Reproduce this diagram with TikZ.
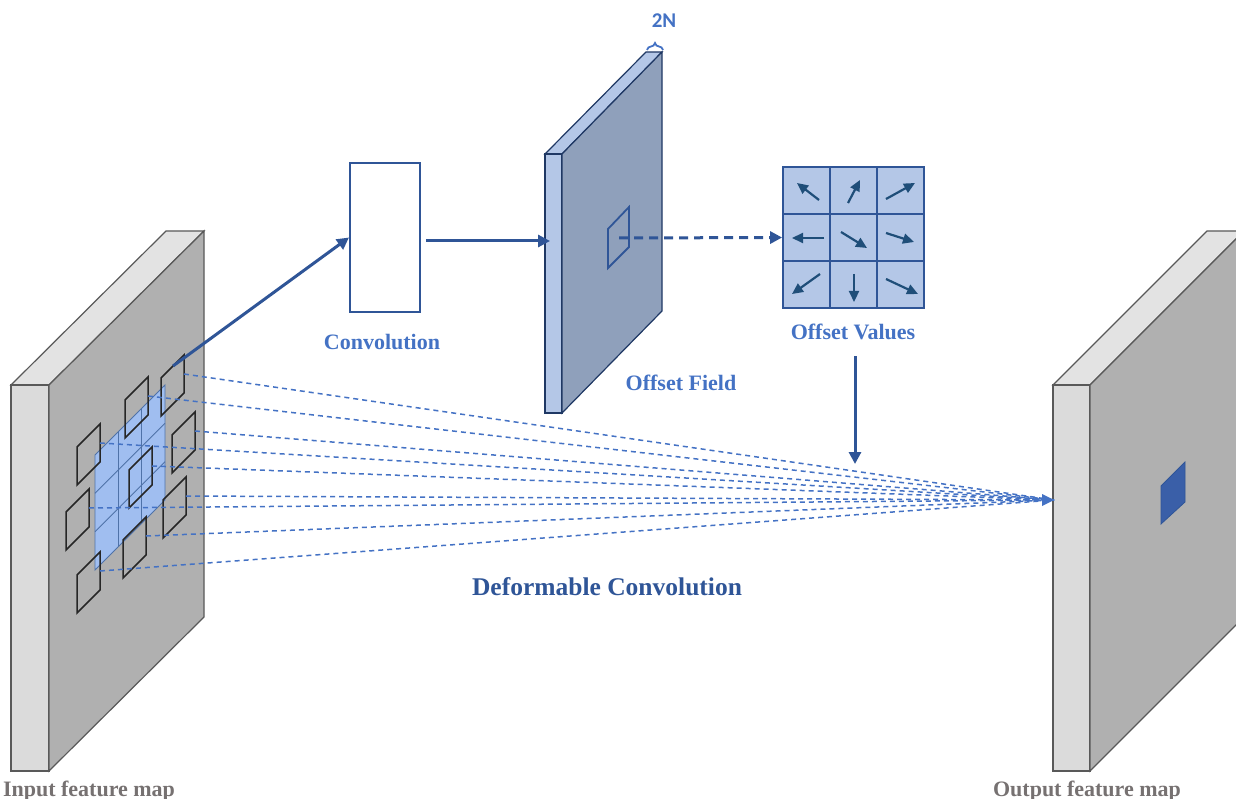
\documentclass[tikz,border=0pt]{standalone}
\usepackage{fontspec}
\setmainfont{Liberation Serif}
\newfontfamily\sansb{Carlito}
\usetikzlibrary{arrows.meta,calc,decorations.pathreplacing}
\definecolor{gface}{HTML}{B0B0B0}
\definecolor{gside}{HTML}{DBDBDB}
\definecolor{gtop}{HTML}{E3E3E3}
\definecolor{gedge}{HTML}{595959}
\definecolor{fface}{HTML}{8FA0BB}
\definecolor{fside}{HTML}{B4C7E7}
\definecolor{fedge}{HTML}{1F3864}
\definecolor{lblue}{HTML}{4472C4}
\definecolor{dblue}{HTML}{2F5597}
\definecolor{navy}{HTML}{1F4E79}
\definecolor{gridblue}{HTML}{A0BEF0}
\definecolor{gridline}{HTML}{4F72A8}
\definecolor{lblgray}{HTML}{767171}
\definecolor{patchblue}{HTML}{3A5FA8}
\definecolor{winblack}{HTML}{262626}
\tikzset{
  gedgestyle/.style={draw=gedge, line width=1.2pt, line join=miter},
  fedgestyle/.style={draw=fedge, line width=1.2pt, line join=miter},
  win/.style={draw=winblack, line width=1.5pt},
  mainarrow/.style={draw=dblue, line width=3pt, -{Triangle[length=12pt 0,width=12pt 0]}},
  cellarrow/.style={draw=navy, line width=2.2pt, -{Triangle[length=11pt 0,width=10pt 0]}},
  dline/.style={draw=lblue, line width=1.5pt, dash pattern=on 5pt off 4pt},
  lbl/.style={font=\fontsize{22}{26}\selectfont\bfseries, anchor=base, inner sep=0pt},
  cell/.style={draw=dblue, line width=1.8pt, fill=fside, minimum size=47pt, inner sep=0pt},
}
\begin{document}
\begin{tikzpicture}[x=1pt,y=-1pt]
\useasboundingbox (0,0) rectangle (1236,799);
% ---------- input feature map ----------
\coordinate (i1) at (11,385);
\coordinate (i2) at (49,385);
\coordinate (i3) at (204,231);
\coordinate (i4) at (166,231);
\coordinate (i5) at (204,617);
\coordinate (i6) at (49,771);
\coordinate (i7) at (11,771);
\filldraw[fill=gtop, gedgestyle] (i1) -- (i2) -- (i3) -- (i4) -- cycle;
\filldraw[fill=gside, gedgestyle] (i1) -- (i2) -- (i6) -- (i7) -- cycle;
\filldraw[fill=gface, gedgestyle] (i2) -- (i3) -- (i5) -- (i6) -- cycle;
% blue sampling grid
\fill[gridblue] (95,455) -- (165,385) -- (165,500) -- (95,570) -- cycle;
\draw[gridline, line width=0.9pt] (95,455) -- (165,385) -- (165,500) -- (95,570) -- cycle;
\foreach \k in {1,2} {
  \draw[gridline, line width=0.9pt] ({95+70*\k/3},{455-70*\k/3}) -- ++(0,115);
  \draw[gridline, line width=0.9pt] (95,{455+115*\k/3}) -- ++(70,-70);
}
% deformed sampling windows (top-left corner given)
\foreach \n/\x/\y in {wA/161/378, wB/125/400, wC/77/447, wD/172/435, wE/129/470, wF/66/512, wG/163/500, wH/123/540, wI/77/575} {
  \draw[win] (\x,\y) -- ++(23,-23) -- ++(0,38) -- ++(-23,23) -- cycle;
  \coordinate (\n) at ({\x+23},{\y-4});
}
% ---------- output feature map ----------
\coordinate (o1) at (1053,385);
\coordinate (o2) at (1090,385);
\coordinate (o3) at (1244,231);
\coordinate (o4) at (1207,231);
\coordinate (o5) at (1244,617);
\coordinate (o6) at (1090,771);
\coordinate (o7) at (1053,771);
\filldraw[fill=gtop, gedgestyle] (o1) -- (o2) -- (o3) -- (o4) -- cycle;
\filldraw[fill=gside, gedgestyle] (o1) -- (o2) -- (o6) -- (o7) -- cycle;
\filldraw[fill=gface, gedgestyle] (o2) -- (o3) -- (o5) -- (o6) -- cycle;
\filldraw[fill=patchblue, draw=dblue, line width=0.8pt] (1161,486) -- (1185,462) -- (1185,502) -- (1161,524) -- cycle;
\coordinate (tgt) at (1054,500);
% dashed sampling lines
\foreach \n in {wA,wB,wC,wD,wE,wF,wG,wH,wI} {
  \draw[dline] (\n) -- (tgt);
}
\fill[lblue] (tgt) -- ++(-12,-6) -- ++(0,12) -- cycle;
% ---------- convolution box ----------
\node[draw=dblue, line width=2pt, fill=white, minimum width=70pt, minimum height=149pt, inner sep=0pt] (conv) at (385,237.5) {};
\node[lbl, text=lblue] (convlbl) at (382,349) {Convolution};
\coordinate (aIn) at (173,366);
\draw[mainarrow] (aIn) -- (conv.west);
% ---------- offset field ----------
\coordinate (f1) at (545,154);
\coordinate (f2) at (562,154);
\coordinate (f3) at (662,52);
\coordinate (f4) at (646,52);
\coordinate (f5) at (662,311);
\coordinate (f6) at (562,413);
\coordinate (f7) at (545,413);
\filldraw[fill=fside, fedgestyle] (f1) -- (f2) -- (f3) -- (f4) -- cycle;
\filldraw[fill=fside, fedgestyle] (f1) -- (f2) -- (f6) -- (f7) -- cycle;
\filldraw[fill=fface, fedgestyle] (f2) -- (f3) -- (f5) -- (f6) -- cycle;
\draw[dblue, line width=1.8pt] (608,229) -- (629,207) -- (629,247) -- (608,268) -- cycle;
\coordinate (patch) at (619,238);
\coordinate (fieldIn) at (550,241);
\draw[mainarrow] (conv.east |- fieldIn) ++(5,0) -- (fieldIn);
\draw[lblue, line width=1.8pt, decorate, decoration={brace, amplitude=7pt}] (647,50) -- (663,50);
\node[font=\sansb\fontsize{21}{24}\selectfont\bfseries, text=lblue, anchor=base, inner sep=0pt] (twoN) at (664,28) {2N};
\node[lbl, text=lblue] (fieldlbl) at (681,390) {Offset Field};
% ---------- offset values ----------
\foreach \r/\yy in {1/190.5,2/237.5,3/284.5} {
  \foreach \c/\xx in {1/806.5,2/853.5,3/900.5} {
    \node[cell] (v\r\c) at (\xx,\yy) {};
  }
}
\draw[cellarrow] ($(v11)+(12.5,9.5)$) -- ($(v11)+(-9.5,-7.5)$);
\draw[cellarrow] ($(v12)+(-5.5,12.5)$) -- ($(v12)+(6.5,-10.5)$);
\draw[cellarrow] ($(v13)+(-14.5,8.5)$) -- ($(v13)+(14.5,-7.5)$);
\draw[cellarrow] ($(v21)+(17.5,0.5)$) -- ($(v21)+(-14.5,0.5)$);
\draw[cellarrow] ($(v22)+(-12.5,-5.5)$) -- ($(v22)+(13.5,10.5)$);
\draw[cellarrow] ($(v23)+(-14.5,-4.5)$) -- ($(v23)+(13.5,4.5)$);
\draw[cellarrow] ($(v31)+(13.5,-10.5)$) -- ($(v31)+(-14.5,9.5)$);
\draw[cellarrow] ($(v32)+(0.5,-10.5)$) -- ($(v32)+(0.5,17.5)$);
\draw[cellarrow] ($(v33)+(-14.5,-5.5)$) -- ($(v33)+(17.5,9.5)$);
\draw[mainarrow, dash pattern=on 9pt off 6pt] (patch) -- (v21.west);
\node[lbl, text=lblue] (vallbl) at (853,340) {Offset Values};
\coordinate (downS) at (855,356);
\coordinate (downE) at (855,464);
\draw[mainarrow] (downS) -- (downE);
% ---------- labels ----------
\node[lbl, text=dblue, font=\fontsize{25.5}{30}\selectfont\bfseries] (deflbl) at (607,595) {Deformable Convolution};
\node[lbl, text=lblgray] (inlbl) at (89,796) {Input feature map};
\node[lbl, text=lblgray] (outlbl) at (1087,796) {Output feature map};
\end{tikzpicture}
\end{document}
